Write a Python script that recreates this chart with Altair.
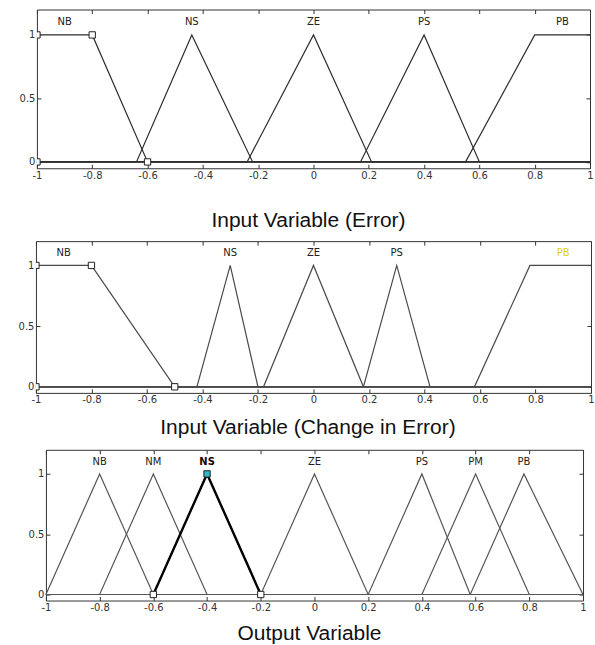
import altair as alt
import pandas as pd

# ---------------- data ----------------
x_ticks = [-1, -0.8, -0.6, -0.4, -0.2, 0, 0.2, 0.4, 0.6, 0.8, 1]
y_ticks = [0, 0.5, 1]

# Panel 1: Input Variable (Error)
err_names = ["NB", "NS", "ZE", "PS", "PB"]
err_x = [[-1, -0.8, -0.6, 1],
         [-1, -0.64, -0.44, -0.22, 1],
         [-1, -0.24, 0, 0.21, 1],
         [-1, 0.17, 0.4, 0.6, 1],
         [-1, 0.55, 0.8, 1]]
err_y = [[1, 1, 0, 0],
         [0, 0, 1, 0, 0],
         [0, 0, 1, 0, 0],
         [0, 0, 1, 0, 0],
         [0, 0, 1, 1]]
err_label_x = [-0.9, -0.44, 0, 0.4, 0.9]
err_mark_x = [-1, -1, -0.8, -0.6]
err_mark_y = [0, 1, 1, 0]

# Panel 2: Input Variable (Change in Error)
chg_names = ["NB", "NS", "ZE", "PS", "PB"]
chg_x = [[-1, -0.8, -0.5, 1],
         [-1, -0.42, -0.3, -0.2, 1],
         [-1, -0.18, 0, 0.18, 1],
         [-1, 0.18, 0.3, 0.42, 1],
         [-1, 0.58, 0.78, 1]]
chg_y = [[1, 1, 0, 0],
         [0, 0, 1, 0, 0],
         [0, 0, 1, 0, 0],
         [0, 0, 1, 0, 0],
         [0, 0, 1, 1]]
chg_label_x = [-0.9, -0.3, 0, 0.3, 0.9]
chg_label_color = ["#222", "#222", "#222", "#222", "#e0d800"]
chg_mark_x = [-1, -1, -0.8, -0.5]
chg_mark_y = [0, 1, 1, 0]

# Panel 3: Output Variable
out_names = ["NB", "NM", "NS", "ZE", "PS", "PM", "PB"]
out_x = [[-1, -0.8, -0.6, 1],
         [-1, -0.8, -0.6, -0.4, 1],
         [-1, -0.6, -0.4, -0.2, 1],
         [-1, -0.2, 0, 0.2, 1],
         [-1, 0.2, 0.4, 0.58, 1],
         [-1, 0.4, 0.6, 0.8, 1],
         [-1, 0.58, 0.78, 1]]
out_y = [[0, 1, 0, 0],
         [0, 0, 1, 0, 0],
         [0, 0, 1, 0, 0],
         [0, 0, 1, 0, 0],
         [0, 0, 1, 0, 0],
         [0, 0, 1, 0, 0],
         [0, 0, 1, 0]]
out_label_x = [-0.8, -0.6, -0.4, 0, 0.4, 0.6, 0.78]
out_selected = "NS"
out_mark_x = [-0.6, -0.4, -0.2]
out_mark_y = [0, 1, 0]
out_mark_fill = ["#ffffff", "#2fb8c8", "#ffffff"]

LABEL_FONT = "DejaVu Sans"
TITLE_FONT = "Liberation Sans"


def panel(names, xs, ys, label_x, mk_x, mk_y, width, height, title,
          title_x, title_base, line_color, selected=None, label_colors=None,
          mk_fill=None, extra_bottom=None):
    rows = []
    for n, xx, yy in zip(names, xs, ys):
        last = len(xx) - 1
        for i, (a, b) in enumerate(zip(xx, yy)):
            # "core" = part of the MF that is not the flat zero extension to the edges
            core = not ((i == 0 and b == 0 and abs(a) == 1) or (i == last and b == 0 and abs(a) == 1))
            rows.append({"mf": n, "i": i, "x": a, "y": b,
                         "sel": bool(n == selected and core)})
    lines = pd.DataFrame(rows)
    if label_colors is None:
        label_colors = ["#222"] * len(names)
    labels = pd.DataFrame({"mf": names, "x": label_x, "y": [1.1] * len(names),
                           "c": label_colors, "sel": [n == selected for n in names]})
    if mk_fill is None:
        mk_fill = ["#ffffff"] * len(mk_x)
    marks = pd.DataFrame({"x": mk_x, "y": mk_y, "f": mk_fill})

    xs_ = alt.Scale(domain=[-1, 1], nice=False, zero=False)
    ys_ = alt.Scale(domain=[-0.05, 1.2], nice=False, zero=False)
    ax_b = alt.Axis(orient="bottom", values=x_ticks,
                    labelExpr="toString(round(datum.value*10)/10)",
                    offset=-4, tickSize=4, domain=False, grid=False,
                    labelPadding=2, labelFlush=False, labelOverlap=False, title=None)
    ax_l = alt.Axis(orient="left", values=y_ticks, labelExpr="toString(datum.value)",
                    offset=-4, tickSize=4, domain=False, grid=False,
                    labelPadding=2, labelOverlap=False, title=None)
    ax_t = alt.Axis(orient="top", values=x_ticks, labels=False, offset=-4, tickSize=4,
                    domain=False, grid=False, title=None)
    ax_r = alt.Axis(orient="right", values=y_ticks, labels=False, offset=-4, tickSize=4,
                    domain=False, grid=False, title=None)

    base_lines = alt.Chart(lines).mark_line(color=line_color, strokeWidth=1.2).encode(
        x=alt.X("x:Q", scale=xs_, axis=ax_b),
        y=alt.Y("y:Q", scale=ys_, axis=ax_l),
        detail="mf:N", order="i:Q")
    layers = [base_lines]
    if selected is not None:
        sel_lines = alt.Chart(lines).transform_filter("datum.sel").mark_line(
            color="#000", strokeWidth=2.4).encode(
            x=alt.X("x:Q", scale=xs_, axis=None),
            y=alt.Y("y:Q", scale=ys_, axis=None),
            detail="mf:N", order="i:Q")
        layers.append(sel_lines)
    lab = alt.Chart(labels).transform_filter("!datum.sel").mark_text(
        font=LABEL_FONT, fontSize=10, baseline="middle", align="center").encode(
        x=alt.X("x:Q", scale=xs_, axis=ax_t),
        y=alt.Y("y:Q", scale=ys_, axis=ax_r),
        text="mf:N", color=alt.Color("c:N", scale=None))
    layers.append(lab)
    if selected is not None:
        lab_sel = alt.Chart(labels).transform_filter("datum.sel").mark_text(
            font=LABEL_FONT, fontSize=10, fontWeight="bold", baseline="middle",
            align="center", color="#1a0000").encode(
            x=alt.X("x:Q", scale=xs_, axis=None),
            y=alt.Y("y:Q", scale=ys_, axis=None),
            text="mf:N")
        layers.append(lab_sel)
    mk = alt.Chart(marks).mark_point(shape="square", filled=True, size=40,
                                     stroke="#222", strokeWidth=1, opacity=1,
                                     clip=True).encode(
        x=alt.X("x:Q", scale=xs_, axis=None),
        y=alt.Y("y:Q", scale=ys_, axis=None),
        fill=alt.Color("f:N", scale=None))
    layers.append(mk)
    ttl = alt.Chart(pd.DataFrame({"t": [title]})).mark_text(
        font=TITLE_FONT, fontSize=21, baseline="alphabetic", align="center",
        color="#111").encode(x=alt.value(title_x), y=alt.value(title_base), text="t:N")
    layers.append(ttl)
    if extra_bottom is not None:
        ext = alt.Chart(pd.DataFrame({"a": [0]})).mark_rule(opacity=0).encode(
            x=alt.value(0), x2=alt.value(5), y=alt.value(extra_bottom))
        layers.append(ext)
    return alt.layer(*layers).properties(width=width, height=height)


def spacer(w, h):
    return alt.Chart(pd.DataFrame({"a": [0]})).mark_point(
        opacity=0, size=0, strokeWidth=0).encode(
        x=alt.value(w / 2), y=alt.value(h / 2)).properties(
        width=w, height=h, view=alt.ViewBackground(strokeOpacity=0, fillOpacity=0))


p1 = panel(err_names, err_x, err_y, err_label_x, err_mark_x, err_mark_y,
           554, 159, "Input Variable (Error)", 272, 218, "#2e2e2e")
p2 = panel(chg_names, chg_x, chg_y, chg_label_x, chg_mark_x, chg_mark_y,
           556, 152, "Input Variable (Change in Error)", 272.5, 193, "#4a4a4a",
           label_colors=chg_label_color, extra_bottom=199)
p3 = panel(out_names, out_x, out_y, out_label_x, out_mark_x, out_mark_y,
           538, 151, "Output Variable", 264, 191, "#555555",
           selected=out_selected, mk_fill=out_mark_fill)

row1 = alt.hconcat(spacer(2, 159), p1, spacing=0)
row2 = alt.hconcat(spacer(1, 152), p2, spacing=0)
row3 = alt.hconcat(spacer(11, 151), p3, spacing=0)

chart = alt.vconcat(row1, row2, row3, spacing=8).properties(
    padding={"left": 16, "top": 8, "right": 0, "bottom": 0},
    background="white",
).configure_view(stroke="#333", strokeWidth=1).configure_axis(
    labelFont=LABEL_FONT, labelFontSize=10, labelColor="#333",
    tickColor="#333", tickWidth=1)

chart.save("out.html", embed_options={"renderer": "svg", "actions": False})
